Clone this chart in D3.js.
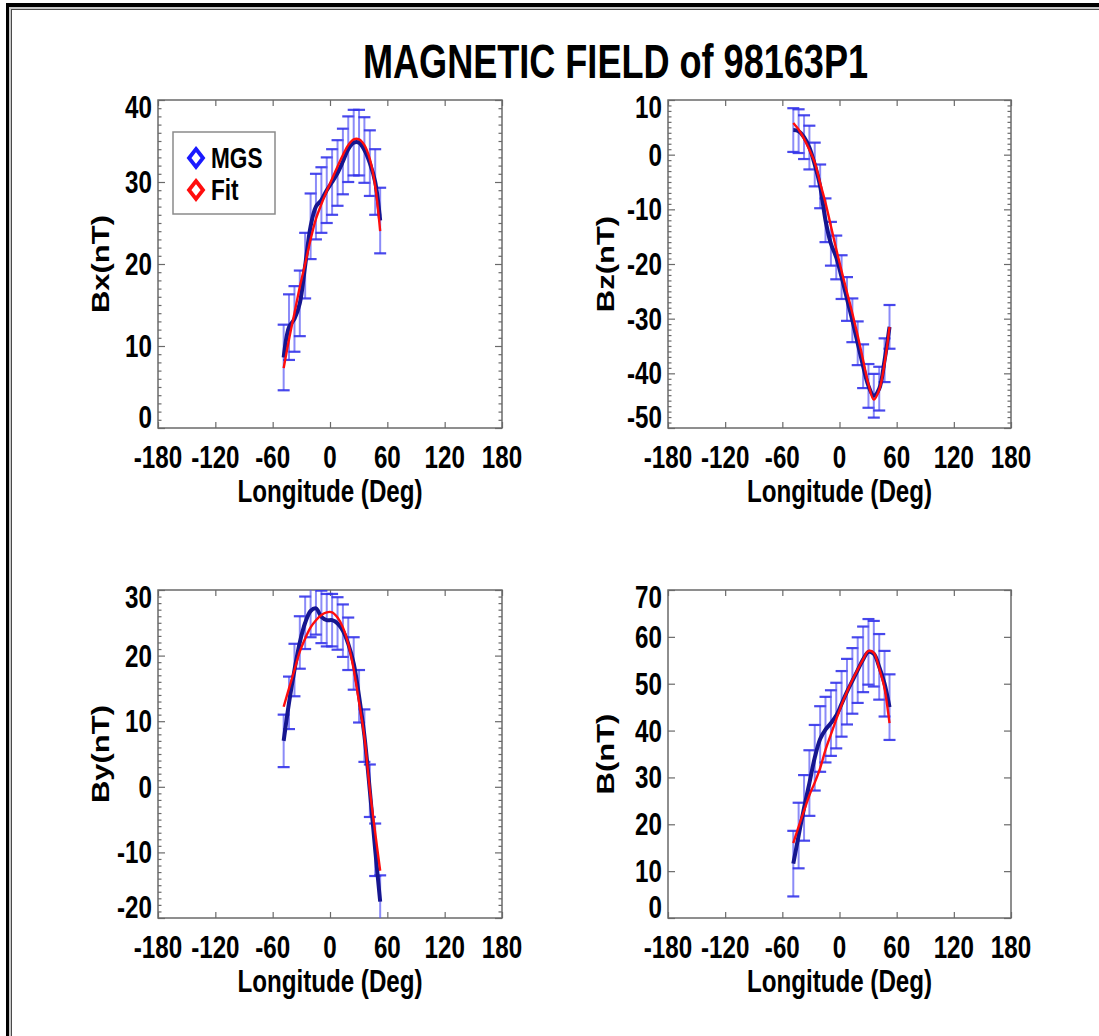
<!DOCTYPE html>
<html>
<head>
<meta charset="utf-8">
<script src="https://cdn.jsdelivr.net/npm/d3@7"></script>
<style>
  body { margin: 0; background: #fff; }
  svg { display: block; }
  text { font-family: "Liberation Sans", Arial, Helvetica, sans-serif; font-weight: bold; fill: #000; }
</style>
</head>
<body>
<svg id="chart" width="1099" height="1036"></svg>
<script>
// Sample longitudes (deg) shared by all four components
const longitudes = [-48.5, -42.9, -37.2, -31.6, -26.0, -20.3, -14.7, -9.0, -3.4, 2.2,
                    7.9, 13.5, 19.1, 24.8, 30.4, 36.0, 41.7, 47.3, 52.5];

// Bx component (nT)
const bxMGS = [8.6, 12.3, 13.3, 15.2, 19.8, 24.6, 27.0, 27.8, 29.0, 30.0,
               31.1, 32.5, 34.0, 34.8, 34.8, 33.9, 32.3, 30.0, 25.3];
const bxFit = [7.3, 10.8, 14.0, 17.2, 20.0, 23.0, 25.5, 27.3, 28.9, 30.4,
               31.9, 33.3, 34.5, 35.2, 35.2, 34.5, 32.8, 29.5, 24.0];

// Bz component (nT)
const bzMGS = [4.5, 4.3, 3.2, 1.3, -1.8, -5.8, -12.0, -16.3, -18.8, -22.4,
               -26.4, -30.3, -34.5, -38.7, -42.3, -44.1, -42.8, -37.6, -31.5];
const bzFit = [5.8, 4.6, 2.9, 0.9, -1.4, -5.2, -8.8, -13.1, -17.3, -21.3,
               -25.2, -29.0, -33.1, -37.6, -42.0, -44.8, -43.0, -38.2, -31.5];

// By component (nT)
const byMGS = [7.0, 12.8, 17.8, 22.0, 25.0, 26.8, 27.2, 25.9, 25.4, 25.4,
               24.9, 23.8, 21.8, 18.8, 13.8, 7.8, -0.6, -9.6, -17.5];
const byFit = [12.2, 15.0, 17.8, 20.6, 22.6, 24.3, 25.4, 26.2, 26.6, 26.6,
               25.8, 24.3, 21.8, 17.9, 12.9, 7.6, -0.5, -7.0, -12.8];

// Total field |B| (nT)
const bMGS = [11.6, 17.6, 23.5, 28.8, 34.2, 38.2, 40.2, 41.6, 43.2, 45.7,
              48.3, 50.6, 52.9, 55.2, 56.8, 56.4, 53.6, 50.0, 45.0];
const bFit = [16.0, 19.5, 22.9, 26.2, 28.9, 32.0, 35.9, 39.2, 42.4, 45.5,
              48.3, 50.8, 53.0, 55.2, 57.0, 56.6, 53.2, 49.0, 41.6];

// One-sigma uncertainty of the MGS measurements (nT)
const errBx = 4, errBz = 4, errBy = 4, errB = 7;

// Axis ticks
const lonTicks = [-180, -120, -60, 0, 60, 120, 180];
const bxTicks = [0, 10, 20, 30, 40];
const bzTicks = [-50, -40, -30, -20, -10, 0, 10];
const byTicks = [-20, -10, 0, 10, 20, 30];
const bTicks = [0, 10, 20, 30, 40, 50, 60, 70];

const titleText = "MAGNETIC FIELD of 98163P1";
const xTitle = "Longitude (Deg)";
const legendLabels = ["MGS", "Fit"];

// ---------------------------------------------------------------
const SQUEEZE = 0.78;            // narrow bold lettering
const MGS_COLOR = "#16168f";
const MGS_KEY_COLOR = "#1a1aff";
const FIT_COLOR = "#ff0d0d";
const BAR_COLOR = "#5a5af5";
const CAP_COLOR = "#3434ea";
const FRAME_COLOR = "#6a6a6a";

const svg = d3.select("#chart");

function txt(parent, x, y, s, size, anchor, extra) {
  return parent.append("text")
    .attr("transform", `translate(${x},${y}) scale(${SQUEEZE},1)` + (extra || ""))
    .attr("text-anchor", anchor)
    .style("font-size", size + "px")
    .text(s);
}

// Window frame
const frame = svg.append("g");
frame.append("rect").attr("x", 6).attr("y", 3).attr("width", 1093).attr("height", 4).attr("fill", "#000");
frame.append("rect").attr("x", 6).attr("y", 3).attr("width", 3).attr("height", 1033).attr("fill", "#000");
frame.append("rect").attr("x", 9).attr("y", 7).attr("width", 1090).attr("height", 2).attr("fill", "#c8c8c8");
frame.append("rect").attr("x", 9).attr("y", 7).attr("width", 2).attr("height", 1029).attr("fill", "#c8c8c8");
frame.append("rect").attr("x", 11).attr("y", 9).attr("width", 1088).attr("height", 1).attr("fill", "#4a4a4a");
frame.append("rect").attr("x", 11).attr("y", 9).attr("width", 1).attr("height", 1027).attr("fill", "#4a4a4a");

// Title
svg.append("text")
  .attr("x", 615.5).attr("y", 78)
  .attr("text-anchor", "middle")
  .attr("textLength", 505)
  .attr("lengthAdjust", "spacingAndGlyphs")
  .style("font-size", "49px")
  .text(titleText);

const panels = [
  { label: "Bx(nT)", mgs: bxMGS, fit: bxFit, err: errBx, ticks: bxTicks, minor: true,
    box: [158, 100, 502, 428], labelX: 100, legend: true },
  { label: "Bz(nT)", mgs: bzMGS, fit: bzFit, err: errBz, ticks: bzTicks, minor: true,
    box: [668, 100, 1011, 428], labelX: 605 },
  { label: "By(nT)", mgs: byMGS, fit: byFit, err: errBy, ticks: byTicks, minor: true,
    box: [158, 590, 502, 918], labelX: 100 },
  { label: "B(nT)", mgs: bMGS, fit: bFit, err: errB, ticks: bTicks, minor: false,
    box: [668, 590, 1011, 918], labelX: 605 }
];

panels.forEach((p, i) => {
  const [x0, y0, x1, y1] = p.box;
  const yDomain = d3.extent(p.ticks);
  const x = d3.scaleLinear().domain(d3.extent(lonTicks)).range([x0, x1]);
  const y = d3.scaleLinear().domain(yDomain).range([y1, y0]);
  const g = svg.append("g");

  // Clip region for the data
  const clipId = "clip" + i;
  svg.append("clipPath").attr("id", clipId)
    .append("rect").attr("x", x0).attr("y", y0).attr("width", x1 - x0).attr("height", y1 - y0);

  // Minor ticks (every 1 nT) on both vertical sides
  if (p.minor) {
    const minorVals = d3.range(yDomain[0] + 1, yDomain[1], 1).filter(v => !p.ticks.includes(v));
    g.append("g").attr("transform", `translate(${x0},0)`)
      .call(d3.axisRight(y).tickValues(minorVals).tickSize(3.5).tickFormat(""));
    g.append("g").attr("transform", `translate(${x1},0)`)
      .call(d3.axisLeft(y).tickValues(minorVals).tickSize(3.5).tickFormat(""));
  }
  // Major ticks pointing inward on all four sides
  g.append("g").attr("transform", `translate(${x0},0)`)
    .call(d3.axisRight(y).tickValues(p.ticks).tickSize(7).tickFormat(""));
  g.append("g").attr("transform", `translate(${x1},0)`)
    .call(d3.axisLeft(y).tickValues(p.ticks).tickSize(7).tickFormat(""));
  g.append("g").attr("transform", `translate(0,${y1})`)
    .call(d3.axisTop(x).tickValues(lonTicks).tickSize(6).tickFormat(""));
  g.append("g").attr("transform", `translate(0,${y0})`)
    .call(d3.axisBottom(x).tickValues(lonTicks).tickSize(6).tickFormat(""));
  g.selectAll(".domain").remove();
  g.selectAll(".tick line").attr("stroke", FRAME_COLOR).attr("stroke-width", 1.2);

  // Plot frame
  g.append("rect").attr("x", x0).attr("y", y0).attr("width", x1 - x0).attr("height", y1 - y0)
    .attr("fill", "none").attr("stroke", FRAME_COLOR).attr("stroke-width", 1.5);

  // Y tick labels (end labels kept inside the frame height)
  p.ticks.forEach(v => {
    let yy = y(v) + 11;
    if (v === yDomain[1]) yy += 7;
    if (v === yDomain[0]) yy -= 11;
    txt(g, x0 - 6, yy, String(v), 31, "end");
  });

  // X tick labels
  lonTicks.forEach(v => txt(g, x(v), y1 + 40, String(v), 31, "middle"));
  txt(g, (x0 + x1) / 2, y1 + 74, xTitle, 31, "middle");

  // Y axis title (rotated)
  txt(g, p.labelX, (y0 + y1) / 2, p.label, 31, "middle", " rotate(-90)").attr("dy", "0.36em");

  // Data layer
  const d = g.append("g").attr("clip-path", `url(#${clipId})`);
  const pts = longitudes.map((lon, k) => ({ lon, v: p.mgs[k], f: p.fit[k] }));

  // Error bars
  const bars = d.append("g");
  pts.forEach(pt => {
    const cx = x(pt.lon), top = y(pt.v + p.err), bot = y(pt.v - p.err);
    bars.append("line").attr("x1", cx).attr("x2", cx).attr("y1", top).attr("y2", bot)
      .attr("stroke", BAR_COLOR).attr("stroke-width", 2).attr("stroke-opacity", 0.7);
    [top, bot].forEach(yy => bars.append("line")
      .attr("x1", cx - 6).attr("x2", cx + 6).attr("y1", yy).attr("y2", yy)
      .attr("stroke", CAP_COLOR).attr("stroke-width", 2.2).attr("stroke-opacity", 0.9));
  });

  const mgsLine = d3.line().x(q => x(q.lon)).y(q => y(q.v)).curve(d3.curveCatmullRom.alpha(0.5));
  const fitLine = d3.line().x(q => x(q.lon)).y(q => y(q.f)).curve(d3.curveCatmullRom.alpha(0.5));
  d.append("path").attr("d", mgsLine(pts)).attr("fill", "none")
    .attr("stroke", MGS_COLOR).attr("stroke-width", 4).attr("stroke-linejoin", "round");
  d.append("path").attr("d", fitLine(pts)).attr("fill", "none")
    .attr("stroke", FIT_COLOR).attr("stroke-width", 2.4).attr("stroke-linejoin", "round");

  // Legend
  if (p.legend) {
    const lg = g.append("g");
    lg.append("rect").attr("x", 173).attr("y", 132).attr("width", 102).attr("height", 82)
      .attr("fill", "#fff").attr("stroke", "#8a8a8a").attr("stroke-width", 1.5);
    [MGS_KEY_COLOR, FIT_COLOR].forEach((c, k) => {
      const cy = 158 + k * 32;
      lg.append("path")
        .attr("d", `M196,${cy - 9} L203,${cy} L196,${cy + 9} L189,${cy} Z`)
        .attr("fill", "#fff").attr("stroke", c).attr("stroke-width", 3.8);
      txt(lg, 211, cy + 10, legendLabels[k], 29, "start");
    });
  }
});
</script>
</body>
</html>
